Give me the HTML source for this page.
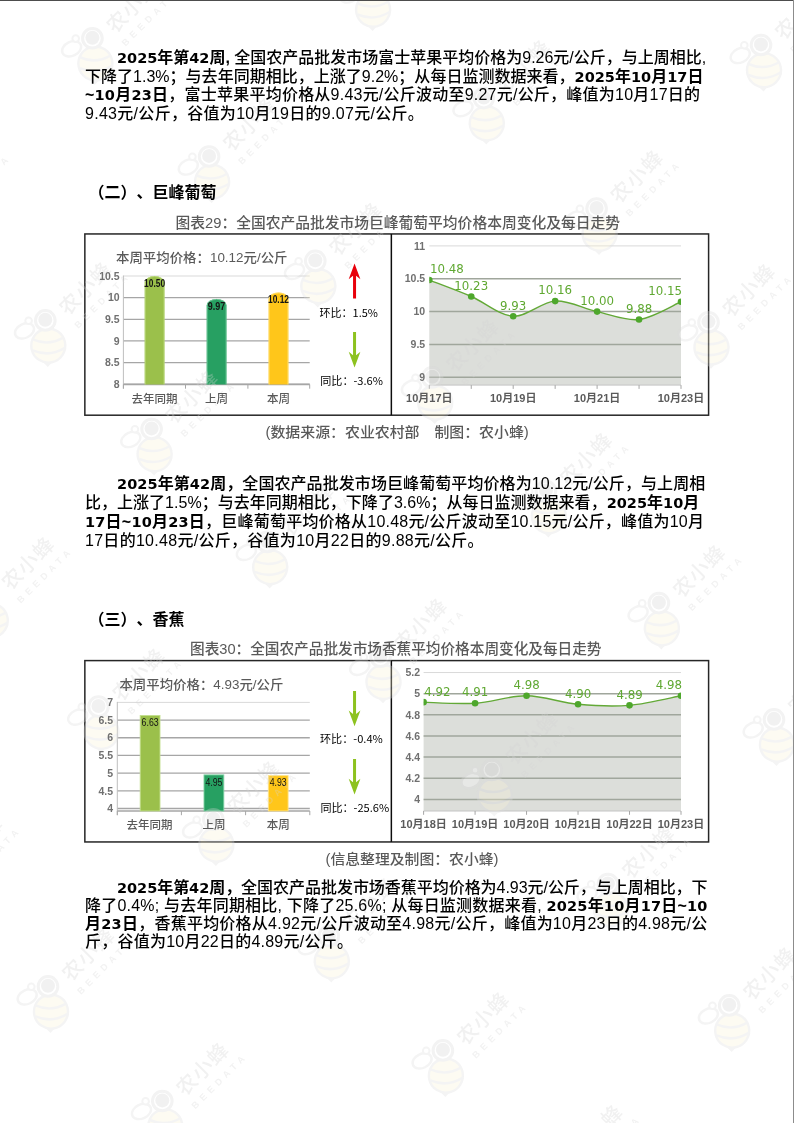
<!DOCTYPE html>
<html lang="zh-CN"><head><meta charset="utf-8"><title>农产品批发市场价格周报</title>
<style>html,body{margin:0;padding:0;background:#fff}body{width:794px;height:1123px;overflow:hidden;position:relative}svg{position:absolute;left:0;top:0;display:block}text{text-spacing-trim:space-all}.p{font-family:'Liberation Sans','Noto Sans CJK SC',sans-serif;font-size:16px;fill:#000;font-weight:500}</style></head><body>
<svg width="794" height="1123" viewBox="0 0 794 1123">
<rect x="0" y="0" width="794" height="1123" fill="#fff"/>
<rect x="84.85" y="233.95" width="623.75" height="181.25" fill="none" stroke="#262626" stroke-width="1.5"/>
<line x1="391.35" y1="233.95" x2="391.35" y2="415.20" stroke="#0d0d0d" stroke-width="1.5"/>
<line x1="123.40" y1="384.20" x2="309.70" y2="384.20" stroke="#a6a6a6" stroke-width="1.3"/>
<line x1="123.40" y1="362.56" x2="309.70" y2="362.56" stroke="#a6a6a6" stroke-width="1.3"/>
<line x1="123.40" y1="340.92" x2="309.70" y2="340.92" stroke="#a6a6a6" stroke-width="1.3"/>
<line x1="123.40" y1="319.28" x2="309.70" y2="319.28" stroke="#a6a6a6" stroke-width="1.3"/>
<line x1="123.40" y1="297.64" x2="309.70" y2="297.64" stroke="#a6a6a6" stroke-width="1.3"/>
<line x1="123.40" y1="276.00" x2="309.70" y2="276.00" stroke="#d9d9d9" stroke-width="1.0"/>
<line x1="123.40" y1="275.50" x2="123.40" y2="388.70" stroke="#bfbfbf" stroke-width="1.0"/>
<line x1="123.40" y1="384.50" x2="309.70" y2="384.50" stroke="#a6a6a6" stroke-width="1.6"/>
<line x1="123.40" y1="384.50" x2="123.40" y2="388.70" stroke="#a6a6a6" stroke-width="1.0"/>
<line x1="185.50" y1="384.50" x2="185.50" y2="388.70" stroke="#a6a6a6" stroke-width="1.0"/>
<line x1="247.90" y1="384.50" x2="247.90" y2="388.70" stroke="#a6a6a6" stroke-width="1.0"/>
<line x1="309.70" y1="384.50" x2="309.70" y2="388.70" stroke="#a6a6a6" stroke-width="1.0"/>
<path d="M144.70,384.50 L144.70,282.50 A9.90,6.50 0 0 1 164.50,282.50 L164.50,384.50 Z" fill="#9bc04b"/>
<path d="M145.15,384.50 L145.15,282.50 A9.45,6.05 0 0 1 164.05,282.50 L164.05,384.50" fill="none" stroke="#c3df8e" stroke-width="0.9" opacity="0.8"/>
<path d="M206.70,384.50 L206.70,305.44 A9.90,6.50 0 0 1 226.50,305.44 L226.50,384.50 Z" fill="#27a062"/>
<path d="M207.15,384.50 L207.15,305.44 A9.45,6.05 0 0 1 226.05,305.44 L226.05,384.50" fill="none" stroke="#7fd0a3" stroke-width="0.9" opacity="0.8"/>
<path d="M268.60,384.50 L268.60,298.95 A9.90,6.50 0 0 1 288.40,298.95 L288.40,384.50 Z" fill="#ffc61a"/>
<path d="M269.05,384.50 L269.05,298.95 A9.45,6.05 0 0 1 287.95,298.95 L287.95,384.50" fill="none" stroke="#ffe48a" stroke-width="0.9" opacity="0.8"/>
<path d="M354.55,263.50 L360.40,279.20 L356.05,275.70 L356.05,298.40 L353.05,298.40 L353.05,275.70 L348.70,279.20 L354.55,263.50 L354.55,263.50 Z" fill="#e8000b"/>
<path d="M354.55,367.50 L360.40,351.80 L356.05,355.30 L356.05,331.90 L353.05,331.90 L353.05,355.30 L348.70,351.80 L354.55,367.50 L354.55,367.50 Z" fill="#8dc21f"/>
<path d="M429.30,280.06 C436.29,282.80 457.27,290.47 471.25,296.49 C485.23,302.51 499.22,315.43 513.20,316.20 C527.18,316.97 541.17,301.85 555.15,301.09 C569.13,300.32 583.12,308.53 597.10,311.60 C611.08,314.67 625.07,321.13 639.05,319.48 C653.03,317.84 674.01,304.70 681.00,301.75 L681.00,385.10 L429.30,385.10 Z" fill="#dcdeda"/>
<line x1="429.30" y1="377.30" x2="681.00" y2="377.30" stroke="#a0a69c" stroke-width="1.5"/>
<line x1="429.30" y1="344.45" x2="681.00" y2="344.45" stroke="#a0a69c" stroke-width="1.5"/>
<line x1="429.30" y1="311.60" x2="681.00" y2="311.60" stroke="#a0a69c" stroke-width="1.5"/>
<line x1="429.30" y1="278.75" x2="681.00" y2="278.75" stroke="#a0a69c" stroke-width="1.5"/>
<line x1="429.30" y1="245.90" x2="681.00" y2="245.90" stroke="#d9d9d9" stroke-width="1.0"/>
<line x1="429.30" y1="385.10" x2="681.00" y2="385.10" stroke="#c4c4c4" stroke-width="1.0"/>
<line x1="429.30" y1="385.10" x2="429.30" y2="388.90" stroke="#a6a6a6" stroke-width="1.0"/>
<line x1="471.25" y1="385.10" x2="471.25" y2="388.90" stroke="#a6a6a6" stroke-width="1.0"/>
<line x1="513.20" y1="385.10" x2="513.20" y2="388.90" stroke="#a6a6a6" stroke-width="1.0"/>
<line x1="555.15" y1="385.10" x2="555.15" y2="388.90" stroke="#a6a6a6" stroke-width="1.0"/>
<line x1="597.10" y1="385.10" x2="597.10" y2="388.90" stroke="#a6a6a6" stroke-width="1.0"/>
<line x1="639.05" y1="385.10" x2="639.05" y2="388.90" stroke="#a6a6a6" stroke-width="1.0"/>
<line x1="681.00" y1="385.10" x2="681.00" y2="388.90" stroke="#a6a6a6" stroke-width="1.0"/>
<clipPath id="clip429"><rect x="429.30" y="233.90" width="251.70" height="151.20"/></clipPath>
<g clip-path="url(#clip429)">
<path d="M429.30,280.06 C436.29,282.80 457.27,290.47 471.25,296.49 C485.23,302.51 499.22,315.43 513.20,316.20 C527.18,316.97 541.17,301.85 555.15,301.09 C569.13,300.32 583.12,308.53 597.10,311.60 C611.08,314.67 625.07,321.13 639.05,319.48 C653.03,317.84 674.01,304.70 681.00,301.75" fill="none" stroke="#63a937" stroke-width="1.4"/>
<circle cx="429.30" cy="280.06" r="3.3" fill="#4ea72c"/>
<circle cx="471.25" cy="296.49" r="3.3" fill="#4ea72c"/>
<circle cx="513.20" cy="316.20" r="3.3" fill="#4ea72c"/>
<circle cx="555.15" cy="301.09" r="3.3" fill="#4ea72c"/>
<circle cx="597.10" cy="311.60" r="3.3" fill="#4ea72c"/>
<circle cx="639.05" cy="319.48" r="3.3" fill="#4ea72c"/>
<circle cx="681.00" cy="301.75" r="3.3" fill="#4ea72c"/>
</g>
<rect x="84.85" y="660.60" width="623.75" height="181.35" fill="none" stroke="#262626" stroke-width="1.5"/>
<line x1="391.35" y1="660.60" x2="391.35" y2="841.95" stroke="#0d0d0d" stroke-width="1.5"/>
<line x1="117.30" y1="808.50" x2="309.80" y2="808.50" stroke="#a6a6a6" stroke-width="1.3"/>
<line x1="117.30" y1="790.82" x2="309.80" y2="790.82" stroke="#a6a6a6" stroke-width="1.3"/>
<line x1="117.30" y1="773.13" x2="309.80" y2="773.13" stroke="#a6a6a6" stroke-width="1.3"/>
<line x1="117.30" y1="755.45" x2="309.80" y2="755.45" stroke="#a6a6a6" stroke-width="1.3"/>
<line x1="117.30" y1="737.76" x2="309.80" y2="737.76" stroke="#a6a6a6" stroke-width="1.3"/>
<line x1="117.30" y1="720.08" x2="309.80" y2="720.08" stroke="#a6a6a6" stroke-width="1.3"/>
<line x1="117.30" y1="702.39" x2="309.80" y2="702.39" stroke="#d9d9d9" stroke-width="1.0"/>
<line x1="117.30" y1="701.89" x2="117.30" y2="815.20" stroke="#bfbfbf" stroke-width="1.0"/>
<line x1="117.30" y1="811.00" x2="309.80" y2="811.00" stroke="#a6a6a6" stroke-width="1.6"/>
<line x1="117.30" y1="811.00" x2="117.30" y2="815.20" stroke="#a6a6a6" stroke-width="1.0"/>
<line x1="181.40" y1="811.00" x2="181.40" y2="815.20" stroke="#a6a6a6" stroke-width="1.0"/>
<line x1="245.60" y1="811.00" x2="245.60" y2="815.20" stroke="#a6a6a6" stroke-width="1.0"/>
<line x1="309.80" y1="811.00" x2="309.80" y2="815.20" stroke="#a6a6a6" stroke-width="1.0"/>
<rect x="140.20" y="715.48" width="19.80" height="95.52" fill="#9bc04b" stroke="#c3df8e" stroke-width="0.9"/>
<rect x="204.00" y="774.90" width="19.80" height="36.10" fill="#27a062" stroke="#7fd0a3" stroke-width="0.9"/>
<rect x="268.30" y="775.61" width="19.80" height="35.39" fill="#ffc61a" stroke="#ffe48a" stroke-width="0.9"/>
<path d="M354.55,726.30 L360.40,710.60 L356.05,714.10 L356.05,691.00 L353.05,691.00 L353.05,714.10 L348.70,710.60 L354.55,726.30 L354.55,726.30 Z" fill="#8dc21f"/>
<path d="M354.55,794.40 L360.40,778.70 L356.05,782.20 L356.05,759.00 L353.05,759.00 L353.05,782.20 L348.70,778.70 L354.55,794.40 L354.55,794.40 Z" fill="#8dc21f"/>
<path d="M423.60,702.16 C432.18,702.33 457.92,704.27 475.08,703.21 C492.24,702.16 509.40,695.64 526.56,695.81 C543.72,695.99 560.88,702.68 578.04,704.27 C595.20,705.86 612.36,706.74 629.52,705.33 C646.68,703.92 672.42,697.40 681.00,695.81 L681.00,811.00 L423.60,811.00 Z" fill="#dcdeda"/>
<line x1="423.60" y1="799.40" x2="681.00" y2="799.40" stroke="#a0a69c" stroke-width="1.5"/>
<line x1="423.60" y1="778.26" x2="681.00" y2="778.26" stroke="#a0a69c" stroke-width="1.5"/>
<line x1="423.60" y1="757.12" x2="681.00" y2="757.12" stroke="#a0a69c" stroke-width="1.5"/>
<line x1="423.60" y1="735.98" x2="681.00" y2="735.98" stroke="#a0a69c" stroke-width="1.5"/>
<line x1="423.60" y1="714.84" x2="681.00" y2="714.84" stroke="#a0a69c" stroke-width="1.5"/>
<line x1="423.60" y1="693.70" x2="681.00" y2="693.70" stroke="#a0a69c" stroke-width="1.5"/>
<line x1="423.60" y1="672.56" x2="681.00" y2="672.56" stroke="#d9d9d9" stroke-width="1.0"/>
<line x1="423.60" y1="811.00" x2="681.00" y2="811.00" stroke="#c4c4c4" stroke-width="1.0"/>
<line x1="423.60" y1="811.00" x2="423.60" y2="814.80" stroke="#a6a6a6" stroke-width="1.0"/>
<line x1="475.08" y1="811.00" x2="475.08" y2="814.80" stroke="#a6a6a6" stroke-width="1.0"/>
<line x1="526.56" y1="811.00" x2="526.56" y2="814.80" stroke="#a6a6a6" stroke-width="1.0"/>
<line x1="578.04" y1="811.00" x2="578.04" y2="814.80" stroke="#a6a6a6" stroke-width="1.0"/>
<line x1="629.52" y1="811.00" x2="629.52" y2="814.80" stroke="#a6a6a6" stroke-width="1.0"/>
<line x1="681.00" y1="811.00" x2="681.00" y2="814.80" stroke="#a6a6a6" stroke-width="1.0"/>
<clipPath id="clip423"><rect x="423.60" y="660.56" width="257.40" height="150.44"/></clipPath>
<g clip-path="url(#clip423)">
<path d="M423.60,702.16 C432.18,702.33 457.92,704.27 475.08,703.21 C492.24,702.16 509.40,695.64 526.56,695.81 C543.72,695.99 560.88,702.68 578.04,704.27 C595.20,705.86 612.36,706.74 629.52,705.33 C646.68,703.92 672.42,697.40 681.00,695.81" fill="none" stroke="#63a937" stroke-width="1.4"/>
<circle cx="423.60" cy="702.16" r="3.3" fill="#4ea72c"/>
<circle cx="475.08" cy="703.21" r="3.3" fill="#4ea72c"/>
<circle cx="526.56" cy="695.81" r="3.3" fill="#4ea72c"/>
<circle cx="578.04" cy="704.27" r="3.3" fill="#4ea72c"/>
<circle cx="629.52" cy="705.33" r="3.3" fill="#4ea72c"/>
<circle cx="681.00" cy="695.81" r="3.3" fill="#4ea72c"/>
</g>
<g id="wm" opacity="0.32">
<g transform="translate(-74.3,202.4)"><ellipse cx="-20.8" cy="10.5" rx="10" ry="7" transform="rotate(-25 -20.8 10.5)" fill="#ffffff" stroke="#dcdcdc" stroke-width="2.4"/><circle cx="-16.7" cy="0.3" r="3.3" fill="#ffffff" stroke="#dcdcdc" stroke-width="2"/><ellipse cx="3" cy="25.2" rx="17" ry="17" transform="rotate(-12 3 25.2)" fill="#f9f3d6" stroke="#dcdcdc" stroke-width="2.4"/><path d="M-12.5,19 Q3,26 18.5,17 M-12.5,30 Q4,37 19.5,27.5" fill="none" stroke="#dddddd" stroke-width="2.6"/><path d="M-2,42 L2.5,46.5 L7,41.5 Z" fill="#dcdcdc"/><circle cx="0" cy="0" r="9.8" fill="#ffffff" stroke="#d8d8d8" stroke-width="3"/><circle cx="0" cy="-0.6" r="7.0" fill="#d4d4d4"/><text x="0" y="0" transform="translate(22.5,-4) rotate(-45)" font-size="20.5" font-weight="500" letter-spacing="1.2" fill="#d4d4d4" font-family="'Noto Sans CJK SC','Liberation Sans',sans-serif">农小蜂</text><text x="0" y="0" transform="translate(33,8.5) rotate(-45)" font-size="9.2" font-weight="bold" letter-spacing="4.6" fill="#d6d6d6" font-family="'Liberation Sans','Noto Sans CJK SC',sans-serif">BEEDATA</text></g>
<g transform="translate(92.4,38.3)"><ellipse cx="-20.8" cy="10.5" rx="10" ry="7" transform="rotate(-25 -20.8 10.5)" fill="#ffffff" stroke="#dcdcdc" stroke-width="2.4"/><circle cx="-16.7" cy="0.3" r="3.3" fill="#ffffff" stroke="#dcdcdc" stroke-width="2"/><ellipse cx="3" cy="25.2" rx="17" ry="17" transform="rotate(-12 3 25.2)" fill="#f9f3d6" stroke="#dcdcdc" stroke-width="2.4"/><path d="M-12.5,19 Q3,26 18.5,17 M-12.5,30 Q4,37 19.5,27.5" fill="none" stroke="#dddddd" stroke-width="2.6"/><path d="M-2,42 L2.5,46.5 L7,41.5 Z" fill="#dcdcdc"/><circle cx="0" cy="0" r="9.8" fill="#ffffff" stroke="#d8d8d8" stroke-width="3"/><circle cx="0" cy="-0.6" r="7.0" fill="#d4d4d4"/><text x="0" y="0" transform="translate(22.5,-4) rotate(-45)" font-size="20.5" font-weight="500" letter-spacing="1.2" fill="#d4d4d4" font-family="'Noto Sans CJK SC','Liberation Sans',sans-serif">农小蜂</text><text x="0" y="0" transform="translate(33,8.5) rotate(-45)" font-size="9.2" font-weight="bold" letter-spacing="4.6" fill="#d6d6d6" font-family="'Liberation Sans','Noto Sans CJK SC',sans-serif">BEEDATA</text></g>
<g transform="translate(45.3,320.4)"><ellipse cx="-20.8" cy="10.5" rx="10" ry="7" transform="rotate(-25 -20.8 10.5)" fill="#ffffff" stroke="#dcdcdc" stroke-width="2.4"/><circle cx="-16.7" cy="0.3" r="3.3" fill="#ffffff" stroke="#dcdcdc" stroke-width="2"/><ellipse cx="3" cy="25.2" rx="17" ry="17" transform="rotate(-12 3 25.2)" fill="#f9f3d6" stroke="#dcdcdc" stroke-width="2.4"/><path d="M-12.5,19 Q3,26 18.5,17 M-12.5,30 Q4,37 19.5,27.5" fill="none" stroke="#dddddd" stroke-width="2.6"/><path d="M-2,42 L2.5,46.5 L7,41.5 Z" fill="#dcdcdc"/><circle cx="0" cy="0" r="9.8" fill="#ffffff" stroke="#d8d8d8" stroke-width="3"/><circle cx="0" cy="-0.6" r="7.0" fill="#d4d4d4"/><text x="0" y="0" transform="translate(22.5,-4) rotate(-45)" font-size="20.5" font-weight="500" letter-spacing="1.2" fill="#d4d4d4" font-family="'Noto Sans CJK SC','Liberation Sans',sans-serif">农小蜂</text><text x="0" y="0" transform="translate(33,8.5) rotate(-45)" font-size="9.2" font-weight="bold" letter-spacing="4.6" fill="#d6d6d6" font-family="'Liberation Sans','Noto Sans CJK SC',sans-serif">BEEDATA</text></g>
<g transform="translate(209.1,156.5)"><ellipse cx="-20.8" cy="10.5" rx="10" ry="7" transform="rotate(-25 -20.8 10.5)" fill="#ffffff" stroke="#dcdcdc" stroke-width="2.4"/><circle cx="-16.7" cy="0.3" r="3.3" fill="#ffffff" stroke="#dcdcdc" stroke-width="2"/><ellipse cx="3" cy="25.2" rx="17" ry="17" transform="rotate(-12 3 25.2)" fill="#f9f3d6" stroke="#dcdcdc" stroke-width="2.4"/><path d="M-12.5,19 Q3,26 18.5,17 M-12.5,30 Q4,37 19.5,27.5" fill="none" stroke="#dddddd" stroke-width="2.6"/><path d="M-2,42 L2.5,46.5 L7,41.5 Z" fill="#dcdcdc"/><circle cx="0" cy="0" r="9.8" fill="#ffffff" stroke="#d8d8d8" stroke-width="3"/><circle cx="0" cy="-0.6" r="7.0" fill="#d4d4d4"/><text x="0" y="0" transform="translate(22.5,-4) rotate(-45)" font-size="20.5" font-weight="500" letter-spacing="1.2" fill="#d4d4d4" font-family="'Noto Sans CJK SC','Liberation Sans',sans-serif">农小蜂</text><text x="0" y="0" transform="translate(33,8.5) rotate(-45)" font-size="9.2" font-weight="bold" letter-spacing="4.6" fill="#d6d6d6" font-family="'Liberation Sans','Noto Sans CJK SC',sans-serif">BEEDATA</text></g>
<g transform="translate(370.1,-15.5)"><ellipse cx="-20.8" cy="10.5" rx="10" ry="7" transform="rotate(-25 -20.8 10.5)" fill="#ffffff" stroke="#dcdcdc" stroke-width="2.4"/><circle cx="-16.7" cy="0.3" r="3.3" fill="#ffffff" stroke="#dcdcdc" stroke-width="2"/><ellipse cx="3" cy="25.2" rx="17" ry="17" transform="rotate(-12 3 25.2)" fill="#f9f3d6" stroke="#dcdcdc" stroke-width="2.4"/><path d="M-12.5,19 Q3,26 18.5,17 M-12.5,30 Q4,37 19.5,27.5" fill="none" stroke="#dddddd" stroke-width="2.6"/><path d="M-2,42 L2.5,46.5 L7,41.5 Z" fill="#dcdcdc"/><circle cx="0" cy="0" r="9.8" fill="#ffffff" stroke="#d8d8d8" stroke-width="3"/><circle cx="0" cy="-0.6" r="7.0" fill="#d4d4d4"/><text x="0" y="0" transform="translate(22.5,-4) rotate(-45)" font-size="20.5" font-weight="500" letter-spacing="1.2" fill="#d4d4d4" font-family="'Noto Sans CJK SC','Liberation Sans',sans-serif">农小蜂</text><text x="0" y="0" transform="translate(33,8.5) rotate(-45)" font-size="9.2" font-weight="bold" letter-spacing="4.6" fill="#d6d6d6" font-family="'Liberation Sans','Noto Sans CJK SC',sans-serif">BEEDATA</text></g>
<g transform="translate(-12.2,595.3)"><ellipse cx="-20.8" cy="10.5" rx="10" ry="7" transform="rotate(-25 -20.8 10.5)" fill="#ffffff" stroke="#dcdcdc" stroke-width="2.4"/><circle cx="-16.7" cy="0.3" r="3.3" fill="#ffffff" stroke="#dcdcdc" stroke-width="2"/><ellipse cx="3" cy="25.2" rx="17" ry="17" transform="rotate(-12 3 25.2)" fill="#f9f3d6" stroke="#dcdcdc" stroke-width="2.4"/><path d="M-12.5,19 Q3,26 18.5,17 M-12.5,30 Q4,37 19.5,27.5" fill="none" stroke="#dddddd" stroke-width="2.6"/><path d="M-2,42 L2.5,46.5 L7,41.5 Z" fill="#dcdcdc"/><circle cx="0" cy="0" r="9.8" fill="#ffffff" stroke="#d8d8d8" stroke-width="3"/><circle cx="0" cy="-0.6" r="7.0" fill="#d4d4d4"/><text x="0" y="0" transform="translate(22.5,-4) rotate(-45)" font-size="20.5" font-weight="500" letter-spacing="1.2" fill="#d4d4d4" font-family="'Noto Sans CJK SC','Liberation Sans',sans-serif">农小蜂</text><text x="0" y="0" transform="translate(33,8.5) rotate(-45)" font-size="9.2" font-weight="bold" letter-spacing="4.6" fill="#d6d6d6" font-family="'Liberation Sans','Noto Sans CJK SC',sans-serif">BEEDATA</text></g>
<g transform="translate(151.6,429.0)"><ellipse cx="-20.8" cy="10.5" rx="10" ry="7" transform="rotate(-25 -20.8 10.5)" fill="#ffffff" stroke="#dcdcdc" stroke-width="2.4"/><circle cx="-16.7" cy="0.3" r="3.3" fill="#ffffff" stroke="#dcdcdc" stroke-width="2"/><ellipse cx="3" cy="25.2" rx="17" ry="17" transform="rotate(-12 3 25.2)" fill="#f9f3d6" stroke="#dcdcdc" stroke-width="2.4"/><path d="M-12.5,19 Q3,26 18.5,17 M-12.5,30 Q4,37 19.5,27.5" fill="none" stroke="#dddddd" stroke-width="2.6"/><path d="M-2,42 L2.5,46.5 L7,41.5 Z" fill="#dcdcdc"/><circle cx="0" cy="0" r="9.8" fill="#ffffff" stroke="#d8d8d8" stroke-width="3"/><circle cx="0" cy="-0.6" r="7.0" fill="#d4d4d4"/><text x="0" y="0" transform="translate(22.5,-4) rotate(-45)" font-size="20.5" font-weight="500" letter-spacing="1.2" fill="#d4d4d4" font-family="'Noto Sans CJK SC','Liberation Sans',sans-serif">农小蜂</text><text x="0" y="0" transform="translate(33,8.5) rotate(-45)" font-size="9.2" font-weight="bold" letter-spacing="4.6" fill="#d6d6d6" font-family="'Liberation Sans','Noto Sans CJK SC',sans-serif">BEEDATA</text></g>
<g transform="translate(315.3,260.9)"><ellipse cx="-20.8" cy="10.5" rx="10" ry="7" transform="rotate(-25 -20.8 10.5)" fill="#ffffff" stroke="#dcdcdc" stroke-width="2.4"/><circle cx="-16.7" cy="0.3" r="3.3" fill="#ffffff" stroke="#dcdcdc" stroke-width="2"/><ellipse cx="3" cy="25.2" rx="17" ry="17" transform="rotate(-12 3 25.2)" fill="#f9f3d6" stroke="#dcdcdc" stroke-width="2.4"/><path d="M-12.5,19 Q3,26 18.5,17 M-12.5,30 Q4,37 19.5,27.5" fill="none" stroke="#dddddd" stroke-width="2.6"/><path d="M-2,42 L2.5,46.5 L7,41.5 Z" fill="#dcdcdc"/><circle cx="0" cy="0" r="9.8" fill="#ffffff" stroke="#d8d8d8" stroke-width="3"/><circle cx="0" cy="-0.6" r="7.0" fill="#d4d4d4"/><text x="0" y="0" transform="translate(22.5,-4) rotate(-45)" font-size="20.5" font-weight="500" letter-spacing="1.2" fill="#d4d4d4" font-family="'Noto Sans CJK SC','Liberation Sans',sans-serif">农小蜂</text><text x="0" y="0" transform="translate(33,8.5) rotate(-45)" font-size="9.2" font-weight="bold" letter-spacing="4.6" fill="#d6d6d6" font-family="'Liberation Sans','Noto Sans CJK SC',sans-serif">BEEDATA</text></g>
<g transform="translate(483.8,98.1)"><ellipse cx="-20.8" cy="10.5" rx="10" ry="7" transform="rotate(-25 -20.8 10.5)" fill="#ffffff" stroke="#dcdcdc" stroke-width="2.4"/><circle cx="-16.7" cy="0.3" r="3.3" fill="#ffffff" stroke="#dcdcdc" stroke-width="2"/><ellipse cx="3" cy="25.2" rx="17" ry="17" transform="rotate(-12 3 25.2)" fill="#f9f3d6" stroke="#dcdcdc" stroke-width="2.4"/><path d="M-12.5,19 Q3,26 18.5,17 M-12.5,30 Q4,37 19.5,27.5" fill="none" stroke="#dddddd" stroke-width="2.6"/><path d="M-2,42 L2.5,46.5 L7,41.5 Z" fill="#dcdcdc"/><circle cx="0" cy="0" r="9.8" fill="#ffffff" stroke="#d8d8d8" stroke-width="3"/><circle cx="0" cy="-0.6" r="7.0" fill="#d4d4d4"/><text x="0" y="0" transform="translate(22.5,-4) rotate(-45)" font-size="20.5" font-weight="500" letter-spacing="1.2" fill="#d4d4d4" font-family="'Noto Sans CJK SC','Liberation Sans',sans-serif">农小蜂</text><text x="0" y="0" transform="translate(33,8.5) rotate(-45)" font-size="9.2" font-weight="bold" letter-spacing="4.6" fill="#d6d6d6" font-family="'Liberation Sans','Noto Sans CJK SC',sans-serif">BEEDATA</text></g>
<g transform="translate(-63.9,874.7)"><ellipse cx="-20.8" cy="10.5" rx="10" ry="7" transform="rotate(-25 -20.8 10.5)" fill="#ffffff" stroke="#dcdcdc" stroke-width="2.4"/><circle cx="-16.7" cy="0.3" r="3.3" fill="#ffffff" stroke="#dcdcdc" stroke-width="2"/><ellipse cx="3" cy="25.2" rx="17" ry="17" transform="rotate(-12 3 25.2)" fill="#f9f3d6" stroke="#dcdcdc" stroke-width="2.4"/><path d="M-12.5,19 Q3,26 18.5,17 M-12.5,30 Q4,37 19.5,27.5" fill="none" stroke="#dddddd" stroke-width="2.6"/><path d="M-2,42 L2.5,46.5 L7,41.5 Z" fill="#dcdcdc"/><circle cx="0" cy="0" r="9.8" fill="#ffffff" stroke="#d8d8d8" stroke-width="3"/><circle cx="0" cy="-0.6" r="7.0" fill="#d4d4d4"/><text x="0" y="0" transform="translate(22.5,-4) rotate(-45)" font-size="20.5" font-weight="500" letter-spacing="1.2" fill="#d4d4d4" font-family="'Noto Sans CJK SC','Liberation Sans',sans-serif">农小蜂</text><text x="0" y="0" transform="translate(33,8.5) rotate(-45)" font-size="9.2" font-weight="bold" letter-spacing="4.6" fill="#d6d6d6" font-family="'Liberation Sans','Noto Sans CJK SC',sans-serif">BEEDATA</text></g>
<g transform="translate(98.5,706.6)"><ellipse cx="-20.8" cy="10.5" rx="10" ry="7" transform="rotate(-25 -20.8 10.5)" fill="#ffffff" stroke="#dcdcdc" stroke-width="2.4"/><circle cx="-16.7" cy="0.3" r="3.3" fill="#ffffff" stroke="#dcdcdc" stroke-width="2"/><ellipse cx="3" cy="25.2" rx="17" ry="17" transform="rotate(-12 3 25.2)" fill="#f9f3d6" stroke="#dcdcdc" stroke-width="2.4"/><path d="M-12.5,19 Q3,26 18.5,17 M-12.5,30 Q4,37 19.5,27.5" fill="none" stroke="#dddddd" stroke-width="2.6"/><path d="M-2,42 L2.5,46.5 L7,41.5 Z" fill="#dcdcdc"/><circle cx="0" cy="0" r="9.8" fill="#ffffff" stroke="#d8d8d8" stroke-width="3"/><circle cx="0" cy="-0.6" r="7.0" fill="#d4d4d4"/><text x="0" y="0" transform="translate(22.5,-4) rotate(-45)" font-size="20.5" font-weight="500" letter-spacing="1.2" fill="#d4d4d4" font-family="'Noto Sans CJK SC','Liberation Sans',sans-serif">农小蜂</text><text x="0" y="0" transform="translate(33,8.5) rotate(-45)" font-size="9.2" font-weight="bold" letter-spacing="4.6" fill="#d6d6d6" font-family="'Liberation Sans','Noto Sans CJK SC',sans-serif">BEEDATA</text></g>
<g transform="translate(267.2,541.9)"><ellipse cx="-20.8" cy="10.5" rx="10" ry="7" transform="rotate(-25 -20.8 10.5)" fill="#ffffff" stroke="#dcdcdc" stroke-width="2.4"/><circle cx="-16.7" cy="0.3" r="3.3" fill="#ffffff" stroke="#dcdcdc" stroke-width="2"/><ellipse cx="3" cy="25.2" rx="17" ry="17" transform="rotate(-12 3 25.2)" fill="#f9f3d6" stroke="#dcdcdc" stroke-width="2.4"/><path d="M-12.5,19 Q3,26 18.5,17 M-12.5,30 Q4,37 19.5,27.5" fill="none" stroke="#dddddd" stroke-width="2.6"/><path d="M-2,42 L2.5,46.5 L7,41.5 Z" fill="#dcdcdc"/><circle cx="0" cy="0" r="9.8" fill="#ffffff" stroke="#d8d8d8" stroke-width="3"/><circle cx="0" cy="-0.6" r="7.0" fill="#d4d4d4"/><text x="0" y="0" transform="translate(22.5,-4) rotate(-45)" font-size="20.5" font-weight="500" letter-spacing="1.2" fill="#d4d4d4" font-family="'Noto Sans CJK SC','Liberation Sans',sans-serif">农小蜂</text><text x="0" y="0" transform="translate(33,8.5) rotate(-45)" font-size="9.2" font-weight="bold" letter-spacing="4.6" fill="#d6d6d6" font-family="'Liberation Sans','Noto Sans CJK SC',sans-serif">BEEDATA</text></g>
<g transform="translate(432.2,377.4)"><ellipse cx="-20.8" cy="10.5" rx="10" ry="7" transform="rotate(-25 -20.8 10.5)" fill="#ffffff" stroke="#dcdcdc" stroke-width="2.4"/><circle cx="-16.7" cy="0.3" r="3.3" fill="#ffffff" stroke="#dcdcdc" stroke-width="2"/><ellipse cx="3" cy="25.2" rx="17" ry="17" transform="rotate(-12 3 25.2)" fill="#f9f3d6" stroke="#dcdcdc" stroke-width="2.4"/><path d="M-12.5,19 Q3,26 18.5,17 M-12.5,30 Q4,37 19.5,27.5" fill="none" stroke="#dddddd" stroke-width="2.6"/><path d="M-2,42 L2.5,46.5 L7,41.5 Z" fill="#dcdcdc"/><circle cx="0" cy="0" r="9.8" fill="#ffffff" stroke="#d8d8d8" stroke-width="3"/><circle cx="0" cy="-0.6" r="7.0" fill="#d4d4d4"/><text x="0" y="0" transform="translate(22.5,-4) rotate(-45)" font-size="20.5" font-weight="500" letter-spacing="1.2" fill="#d4d4d4" font-family="'Noto Sans CJK SC','Liberation Sans',sans-serif">农小蜂</text><text x="0" y="0" transform="translate(33,8.5) rotate(-45)" font-size="9.2" font-weight="bold" letter-spacing="4.6" fill="#d6d6d6" font-family="'Liberation Sans','Noto Sans CJK SC',sans-serif">BEEDATA</text></g>
<g transform="translate(596.6,208.5)"><ellipse cx="-20.8" cy="10.5" rx="10" ry="7" transform="rotate(-25 -20.8 10.5)" fill="#ffffff" stroke="#dcdcdc" stroke-width="2.4"/><circle cx="-16.7" cy="0.3" r="3.3" fill="#ffffff" stroke="#dcdcdc" stroke-width="2"/><ellipse cx="3" cy="25.2" rx="17" ry="17" transform="rotate(-12 3 25.2)" fill="#f9f3d6" stroke="#dcdcdc" stroke-width="2.4"/><path d="M-12.5,19 Q3,26 18.5,17 M-12.5,30 Q4,37 19.5,27.5" fill="none" stroke="#dddddd" stroke-width="2.6"/><path d="M-2,42 L2.5,46.5 L7,41.5 Z" fill="#dcdcdc"/><circle cx="0" cy="0" r="9.8" fill="#ffffff" stroke="#d8d8d8" stroke-width="3"/><circle cx="0" cy="-0.6" r="7.0" fill="#d4d4d4"/><text x="0" y="0" transform="translate(22.5,-4) rotate(-45)" font-size="20.5" font-weight="500" letter-spacing="1.2" fill="#d4d4d4" font-family="'Noto Sans CJK SC','Liberation Sans',sans-serif">农小蜂</text><text x="0" y="0" transform="translate(33,8.5) rotate(-45)" font-size="9.2" font-weight="bold" letter-spacing="4.6" fill="#d6d6d6" font-family="'Liberation Sans','Noto Sans CJK SC',sans-serif">BEEDATA</text></g>
<g transform="translate(761.0,45.0)"><ellipse cx="-20.8" cy="10.5" rx="10" ry="7" transform="rotate(-25 -20.8 10.5)" fill="#ffffff" stroke="#dcdcdc" stroke-width="2.4"/><circle cx="-16.7" cy="0.3" r="3.3" fill="#ffffff" stroke="#dcdcdc" stroke-width="2"/><ellipse cx="3" cy="25.2" rx="17" ry="17" transform="rotate(-12 3 25.2)" fill="#f9f3d6" stroke="#dcdcdc" stroke-width="2.4"/><path d="M-12.5,19 Q3,26 18.5,17 M-12.5,30 Q4,37 19.5,27.5" fill="none" stroke="#dddddd" stroke-width="2.6"/><path d="M-2,42 L2.5,46.5 L7,41.5 Z" fill="#dcdcdc"/><circle cx="0" cy="0" r="9.8" fill="#ffffff" stroke="#d8d8d8" stroke-width="3"/><circle cx="0" cy="-0.6" r="7.0" fill="#d4d4d4"/><text x="0" y="0" transform="translate(22.5,-4) rotate(-45)" font-size="20.5" font-weight="500" letter-spacing="1.2" fill="#d4d4d4" font-family="'Noto Sans CJK SC','Liberation Sans',sans-serif">农小蜂</text><text x="0" y="0" transform="translate(33,8.5) rotate(-45)" font-size="9.2" font-weight="bold" letter-spacing="4.6" fill="#d6d6d6" font-family="'Liberation Sans','Noto Sans CJK SC',sans-serif">BEEDATA</text></g>
<g transform="translate(48.0,986.4)"><ellipse cx="-20.8" cy="10.5" rx="10" ry="7" transform="rotate(-25 -20.8 10.5)" fill="#ffffff" stroke="#dcdcdc" stroke-width="2.4"/><circle cx="-16.7" cy="0.3" r="3.3" fill="#ffffff" stroke="#dcdcdc" stroke-width="2"/><ellipse cx="3" cy="25.2" rx="17" ry="17" transform="rotate(-12 3 25.2)" fill="#f9f3d6" stroke="#dcdcdc" stroke-width="2.4"/><path d="M-12.5,19 Q3,26 18.5,17 M-12.5,30 Q4,37 19.5,27.5" fill="none" stroke="#dddddd" stroke-width="2.6"/><path d="M-2,42 L2.5,46.5 L7,41.5 Z" fill="#dcdcdc"/><circle cx="0" cy="0" r="9.8" fill="#ffffff" stroke="#d8d8d8" stroke-width="3"/><circle cx="0" cy="-0.6" r="7.0" fill="#d4d4d4"/><text x="0" y="0" transform="translate(22.5,-4) rotate(-45)" font-size="20.5" font-weight="500" letter-spacing="1.2" fill="#d4d4d4" font-family="'Noto Sans CJK SC','Liberation Sans',sans-serif">农小蜂</text><text x="0" y="0" transform="translate(33,8.5) rotate(-45)" font-size="9.2" font-weight="bold" letter-spacing="4.6" fill="#d6d6d6" font-family="'Liberation Sans','Noto Sans CJK SC',sans-serif">BEEDATA</text></g>
<g transform="translate(213.4,819.4)"><ellipse cx="-20.8" cy="10.5" rx="10" ry="7" transform="rotate(-25 -20.8 10.5)" fill="#ffffff" stroke="#dcdcdc" stroke-width="2.4"/><circle cx="-16.7" cy="0.3" r="3.3" fill="#ffffff" stroke="#dcdcdc" stroke-width="2"/><ellipse cx="3" cy="25.2" rx="17" ry="17" transform="rotate(-12 3 25.2)" fill="#f9f3d6" stroke="#dcdcdc" stroke-width="2.4"/><path d="M-12.5,19 Q3,26 18.5,17 M-12.5,30 Q4,37 19.5,27.5" fill="none" stroke="#dddddd" stroke-width="2.6"/><path d="M-2,42 L2.5,46.5 L7,41.5 Z" fill="#dcdcdc"/><circle cx="0" cy="0" r="9.8" fill="#ffffff" stroke="#d8d8d8" stroke-width="3"/><circle cx="0" cy="-0.6" r="7.0" fill="#d4d4d4"/><text x="0" y="0" transform="translate(22.5,-4) rotate(-45)" font-size="20.5" font-weight="500" letter-spacing="1.2" fill="#d4d4d4" font-family="'Noto Sans CJK SC','Liberation Sans',sans-serif">农小蜂</text><text x="0" y="0" transform="translate(33,8.5) rotate(-45)" font-size="9.2" font-weight="bold" letter-spacing="4.6" fill="#d6d6d6" font-family="'Liberation Sans','Noto Sans CJK SC',sans-serif">BEEDATA</text></g>
<g transform="translate(380.5,656.8)"><ellipse cx="-20.8" cy="10.5" rx="10" ry="7" transform="rotate(-25 -20.8 10.5)" fill="#ffffff" stroke="#dcdcdc" stroke-width="2.4"/><circle cx="-16.7" cy="0.3" r="3.3" fill="#ffffff" stroke="#dcdcdc" stroke-width="2"/><ellipse cx="3" cy="25.2" rx="17" ry="17" transform="rotate(-12 3 25.2)" fill="#f9f3d6" stroke="#dcdcdc" stroke-width="2.4"/><path d="M-12.5,19 Q3,26 18.5,17 M-12.5,30 Q4,37 19.5,27.5" fill="none" stroke="#dddddd" stroke-width="2.6"/><path d="M-2,42 L2.5,46.5 L7,41.5 Z" fill="#dcdcdc"/><circle cx="0" cy="0" r="9.8" fill="#ffffff" stroke="#d8d8d8" stroke-width="3"/><circle cx="0" cy="-0.6" r="7.0" fill="#d4d4d4"/><text x="0" y="0" transform="translate(22.5,-4) rotate(-45)" font-size="20.5" font-weight="500" letter-spacing="1.2" fill="#d4d4d4" font-family="'Noto Sans CJK SC','Liberation Sans',sans-serif">农小蜂</text><text x="0" y="0" transform="translate(33,8.5) rotate(-45)" font-size="9.2" font-weight="bold" letter-spacing="4.6" fill="#d6d6d6" font-family="'Liberation Sans','Noto Sans CJK SC',sans-serif">BEEDATA</text></g>
<g transform="translate(545.9,491.0)"><ellipse cx="-20.8" cy="10.5" rx="10" ry="7" transform="rotate(-25 -20.8 10.5)" fill="#ffffff" stroke="#dcdcdc" stroke-width="2.4"/><circle cx="-16.7" cy="0.3" r="3.3" fill="#ffffff" stroke="#dcdcdc" stroke-width="2"/><ellipse cx="3" cy="25.2" rx="17" ry="17" transform="rotate(-12 3 25.2)" fill="#f9f3d6" stroke="#dcdcdc" stroke-width="2.4"/><path d="M-12.5,19 Q3,26 18.5,17 M-12.5,30 Q4,37 19.5,27.5" fill="none" stroke="#dddddd" stroke-width="2.6"/><path d="M-2,42 L2.5,46.5 L7,41.5 Z" fill="#dcdcdc"/><circle cx="0" cy="0" r="9.8" fill="#ffffff" stroke="#d8d8d8" stroke-width="3"/><circle cx="0" cy="-0.6" r="7.0" fill="#d4d4d4"/><text x="0" y="0" transform="translate(22.5,-4) rotate(-45)" font-size="20.5" font-weight="500" letter-spacing="1.2" fill="#d4d4d4" font-family="'Noto Sans CJK SC','Liberation Sans',sans-serif">农小蜂</text><text x="0" y="0" transform="translate(33,8.5) rotate(-45)" font-size="9.2" font-weight="bold" letter-spacing="4.6" fill="#d6d6d6" font-family="'Liberation Sans','Noto Sans CJK SC',sans-serif">BEEDATA</text></g>
<g transform="translate(708.5,322.2)"><ellipse cx="-20.8" cy="10.5" rx="10" ry="7" transform="rotate(-25 -20.8 10.5)" fill="#ffffff" stroke="#dcdcdc" stroke-width="2.4"/><circle cx="-16.7" cy="0.3" r="3.3" fill="#ffffff" stroke="#dcdcdc" stroke-width="2"/><ellipse cx="3" cy="25.2" rx="17" ry="17" transform="rotate(-12 3 25.2)" fill="#f9f3d6" stroke="#dcdcdc" stroke-width="2.4"/><path d="M-12.5,19 Q3,26 18.5,17 M-12.5,30 Q4,37 19.5,27.5" fill="none" stroke="#dddddd" stroke-width="2.6"/><path d="M-2,42 L2.5,46.5 L7,41.5 Z" fill="#dcdcdc"/><circle cx="0" cy="0" r="9.8" fill="#ffffff" stroke="#d8d8d8" stroke-width="3"/><circle cx="0" cy="-0.6" r="7.0" fill="#d4d4d4"/><text x="0" y="0" transform="translate(22.5,-4) rotate(-45)" font-size="20.5" font-weight="500" letter-spacing="1.2" fill="#d4d4d4" font-family="'Noto Sans CJK SC','Liberation Sans',sans-serif">农小蜂</text><text x="0" y="0" transform="translate(33,8.5) rotate(-45)" font-size="9.2" font-weight="bold" letter-spacing="4.6" fill="#d6d6d6" font-family="'Liberation Sans','Noto Sans CJK SC',sans-serif">BEEDATA</text></g>
<g transform="translate(162.3,1101.0)"><ellipse cx="-20.8" cy="10.5" rx="10" ry="7" transform="rotate(-25 -20.8 10.5)" fill="#ffffff" stroke="#dcdcdc" stroke-width="2.4"/><circle cx="-16.7" cy="0.3" r="3.3" fill="#ffffff" stroke="#dcdcdc" stroke-width="2"/><ellipse cx="3" cy="25.2" rx="17" ry="17" transform="rotate(-12 3 25.2)" fill="#f9f3d6" stroke="#dcdcdc" stroke-width="2.4"/><path d="M-12.5,19 Q3,26 18.5,17 M-12.5,30 Q4,37 19.5,27.5" fill="none" stroke="#dddddd" stroke-width="2.6"/><path d="M-2,42 L2.5,46.5 L7,41.5 Z" fill="#dcdcdc"/><circle cx="0" cy="0" r="9.8" fill="#ffffff" stroke="#d8d8d8" stroke-width="3"/><circle cx="0" cy="-0.6" r="7.0" fill="#d4d4d4"/><text x="0" y="0" transform="translate(22.5,-4) rotate(-45)" font-size="20.5" font-weight="500" letter-spacing="1.2" fill="#d4d4d4" font-family="'Noto Sans CJK SC','Liberation Sans',sans-serif">农小蜂</text><text x="0" y="0" transform="translate(33,8.5) rotate(-45)" font-size="9.2" font-weight="bold" letter-spacing="4.6" fill="#d6d6d6" font-family="'Liberation Sans','Noto Sans CJK SC',sans-serif">BEEDATA</text></g>
<g transform="translate(328.8,936.1)"><ellipse cx="-20.8" cy="10.5" rx="10" ry="7" transform="rotate(-25 -20.8 10.5)" fill="#ffffff" stroke="#dcdcdc" stroke-width="2.4"/><circle cx="-16.7" cy="0.3" r="3.3" fill="#ffffff" stroke="#dcdcdc" stroke-width="2"/><ellipse cx="3" cy="25.2" rx="17" ry="17" transform="rotate(-12 3 25.2)" fill="#f9f3d6" stroke="#dcdcdc" stroke-width="2.4"/><path d="M-12.5,19 Q3,26 18.5,17 M-12.5,30 Q4,37 19.5,27.5" fill="none" stroke="#dddddd" stroke-width="2.6"/><path d="M-2,42 L2.5,46.5 L7,41.5 Z" fill="#dcdcdc"/><circle cx="0" cy="0" r="9.8" fill="#ffffff" stroke="#d8d8d8" stroke-width="3"/><circle cx="0" cy="-0.6" r="7.0" fill="#d4d4d4"/><text x="0" y="0" transform="translate(22.5,-4) rotate(-45)" font-size="20.5" font-weight="500" letter-spacing="1.2" fill="#d4d4d4" font-family="'Noto Sans CJK SC','Liberation Sans',sans-serif">农小蜂</text><text x="0" y="0" transform="translate(33,8.5) rotate(-45)" font-size="9.2" font-weight="bold" letter-spacing="4.6" fill="#d6d6d6" font-family="'Liberation Sans','Noto Sans CJK SC',sans-serif">BEEDATA</text></g>
<g transform="translate(491.8,770.0)"><ellipse cx="-20.8" cy="10.5" rx="10" ry="7" transform="rotate(-25 -20.8 10.5)" fill="#ffffff" stroke="#dcdcdc" stroke-width="2.4"/><circle cx="-16.7" cy="0.3" r="3.3" fill="#ffffff" stroke="#dcdcdc" stroke-width="2"/><ellipse cx="3" cy="25.2" rx="17" ry="17" transform="rotate(-12 3 25.2)" fill="#f9f3d6" stroke="#dcdcdc" stroke-width="2.4"/><path d="M-12.5,19 Q3,26 18.5,17 M-12.5,30 Q4,37 19.5,27.5" fill="none" stroke="#dddddd" stroke-width="2.6"/><path d="M-2,42 L2.5,46.5 L7,41.5 Z" fill="#dcdcdc"/><circle cx="0" cy="0" r="9.8" fill="#ffffff" stroke="#d8d8d8" stroke-width="3"/><circle cx="0" cy="-0.6" r="7.0" fill="#d4d4d4"/><text x="0" y="0" transform="translate(22.5,-4) rotate(-45)" font-size="20.5" font-weight="500" letter-spacing="1.2" fill="#d4d4d4" font-family="'Noto Sans CJK SC','Liberation Sans',sans-serif">农小蜂</text><text x="0" y="0" transform="translate(33,8.5) rotate(-45)" font-size="9.2" font-weight="bold" letter-spacing="4.6" fill="#d6d6d6" font-family="'Liberation Sans','Noto Sans CJK SC',sans-serif">BEEDATA</text></g>
<g transform="translate(658.9,603.1)"><ellipse cx="-20.8" cy="10.5" rx="10" ry="7" transform="rotate(-25 -20.8 10.5)" fill="#ffffff" stroke="#dcdcdc" stroke-width="2.4"/><circle cx="-16.7" cy="0.3" r="3.3" fill="#ffffff" stroke="#dcdcdc" stroke-width="2"/><ellipse cx="3" cy="25.2" rx="17" ry="17" transform="rotate(-12 3 25.2)" fill="#f9f3d6" stroke="#dcdcdc" stroke-width="2.4"/><path d="M-12.5,19 Q3,26 18.5,17 M-12.5,30 Q4,37 19.5,27.5" fill="none" stroke="#dddddd" stroke-width="2.6"/><path d="M-2,42 L2.5,46.5 L7,41.5 Z" fill="#dcdcdc"/><circle cx="0" cy="0" r="9.8" fill="#ffffff" stroke="#d8d8d8" stroke-width="3"/><circle cx="0" cy="-0.6" r="7.0" fill="#d4d4d4"/><text x="0" y="0" transform="translate(22.5,-4) rotate(-45)" font-size="20.5" font-weight="500" letter-spacing="1.2" fill="#d4d4d4" font-family="'Noto Sans CJK SC','Liberation Sans',sans-serif">农小蜂</text><text x="0" y="0" transform="translate(33,8.5) rotate(-45)" font-size="9.2" font-weight="bold" letter-spacing="4.6" fill="#d6d6d6" font-family="'Liberation Sans','Noto Sans CJK SC',sans-serif">BEEDATA</text></g>
<g transform="translate(442.9,1050.4)"><ellipse cx="-20.8" cy="10.5" rx="10" ry="7" transform="rotate(-25 -20.8 10.5)" fill="#ffffff" stroke="#dcdcdc" stroke-width="2.4"/><circle cx="-16.7" cy="0.3" r="3.3" fill="#ffffff" stroke="#dcdcdc" stroke-width="2"/><ellipse cx="3" cy="25.2" rx="17" ry="17" transform="rotate(-12 3 25.2)" fill="#f9f3d6" stroke="#dcdcdc" stroke-width="2.4"/><path d="M-12.5,19 Q3,26 18.5,17 M-12.5,30 Q4,37 19.5,27.5" fill="none" stroke="#dddddd" stroke-width="2.6"/><path d="M-2,42 L2.5,46.5 L7,41.5 Z" fill="#dcdcdc"/><circle cx="0" cy="0" r="9.8" fill="#ffffff" stroke="#d8d8d8" stroke-width="3"/><circle cx="0" cy="-0.6" r="7.0" fill="#d4d4d4"/><text x="0" y="0" transform="translate(22.5,-4) rotate(-45)" font-size="20.5" font-weight="500" letter-spacing="1.2" fill="#d4d4d4" font-family="'Noto Sans CJK SC','Liberation Sans',sans-serif">农小蜂</text><text x="0" y="0" transform="translate(33,8.5) rotate(-45)" font-size="9.2" font-weight="bold" letter-spacing="4.6" fill="#d6d6d6" font-family="'Liberation Sans','Noto Sans CJK SC',sans-serif">BEEDATA</text></g>
<g transform="translate(607.9,884.0)"><ellipse cx="-20.8" cy="10.5" rx="10" ry="7" transform="rotate(-25 -20.8 10.5)" fill="#ffffff" stroke="#dcdcdc" stroke-width="2.4"/><circle cx="-16.7" cy="0.3" r="3.3" fill="#ffffff" stroke="#dcdcdc" stroke-width="2"/><ellipse cx="3" cy="25.2" rx="17" ry="17" transform="rotate(-12 3 25.2)" fill="#f9f3d6" stroke="#dcdcdc" stroke-width="2.4"/><path d="M-12.5,19 Q3,26 18.5,17 M-12.5,30 Q4,37 19.5,27.5" fill="none" stroke="#dddddd" stroke-width="2.6"/><path d="M-2,42 L2.5,46.5 L7,41.5 Z" fill="#dcdcdc"/><circle cx="0" cy="0" r="9.8" fill="#ffffff" stroke="#d8d8d8" stroke-width="3"/><circle cx="0" cy="-0.6" r="7.0" fill="#d4d4d4"/><text x="0" y="0" transform="translate(22.5,-4) rotate(-45)" font-size="20.5" font-weight="500" letter-spacing="1.2" fill="#d4d4d4" font-family="'Noto Sans CJK SC','Liberation Sans',sans-serif">农小蜂</text><text x="0" y="0" transform="translate(33,8.5) rotate(-45)" font-size="9.2" font-weight="bold" letter-spacing="4.6" fill="#d6d6d6" font-family="'Liberation Sans','Noto Sans CJK SC',sans-serif">BEEDATA</text></g>
<g transform="translate(774.0,719.4)"><ellipse cx="-20.8" cy="10.5" rx="10" ry="7" transform="rotate(-25 -20.8 10.5)" fill="#ffffff" stroke="#dcdcdc" stroke-width="2.4"/><circle cx="-16.7" cy="0.3" r="3.3" fill="#ffffff" stroke="#dcdcdc" stroke-width="2"/><ellipse cx="3" cy="25.2" rx="17" ry="17" transform="rotate(-12 3 25.2)" fill="#f9f3d6" stroke="#dcdcdc" stroke-width="2.4"/><path d="M-12.5,19 Q3,26 18.5,17 M-12.5,30 Q4,37 19.5,27.5" fill="none" stroke="#dddddd" stroke-width="2.6"/><path d="M-2,42 L2.5,46.5 L7,41.5 Z" fill="#dcdcdc"/><circle cx="0" cy="0" r="9.8" fill="#ffffff" stroke="#d8d8d8" stroke-width="3"/><circle cx="0" cy="-0.6" r="7.0" fill="#d4d4d4"/><text x="0" y="0" transform="translate(22.5,-4) rotate(-45)" font-size="20.5" font-weight="500" letter-spacing="1.2" fill="#d4d4d4" font-family="'Noto Sans CJK SC','Liberation Sans',sans-serif">农小蜂</text><text x="0" y="0" transform="translate(33,8.5) rotate(-45)" font-size="9.2" font-weight="bold" letter-spacing="4.6" fill="#d6d6d6" font-family="'Liberation Sans','Noto Sans CJK SC',sans-serif">BEEDATA</text></g>
<g transform="translate(556.2,1163.3)"><ellipse cx="-20.8" cy="10.5" rx="10" ry="7" transform="rotate(-25 -20.8 10.5)" fill="#ffffff" stroke="#dcdcdc" stroke-width="2.4"/><circle cx="-16.7" cy="0.3" r="3.3" fill="#ffffff" stroke="#dcdcdc" stroke-width="2"/><ellipse cx="3" cy="25.2" rx="17" ry="17" transform="rotate(-12 3 25.2)" fill="#f9f3d6" stroke="#dcdcdc" stroke-width="2.4"/><path d="M-12.5,19 Q3,26 18.5,17 M-12.5,30 Q4,37 19.5,27.5" fill="none" stroke="#dddddd" stroke-width="2.6"/><path d="M-2,42 L2.5,46.5 L7,41.5 Z" fill="#dcdcdc"/><circle cx="0" cy="0" r="9.8" fill="#ffffff" stroke="#d8d8d8" stroke-width="3"/><circle cx="0" cy="-0.6" r="7.0" fill="#d4d4d4"/><text x="0" y="0" transform="translate(22.5,-4) rotate(-45)" font-size="20.5" font-weight="500" letter-spacing="1.2" fill="#d4d4d4" font-family="'Noto Sans CJK SC','Liberation Sans',sans-serif">农小蜂</text><text x="0" y="0" transform="translate(33,8.5) rotate(-45)" font-size="9.2" font-weight="bold" letter-spacing="4.6" fill="#d6d6d6" font-family="'Liberation Sans','Noto Sans CJK SC',sans-serif">BEEDATA</text></g>
<g transform="translate(729.2,1005.4)"><ellipse cx="-20.8" cy="10.5" rx="10" ry="7" transform="rotate(-25 -20.8 10.5)" fill="#ffffff" stroke="#dcdcdc" stroke-width="2.4"/><circle cx="-16.7" cy="0.3" r="3.3" fill="#ffffff" stroke="#dcdcdc" stroke-width="2"/><ellipse cx="3" cy="25.2" rx="17" ry="17" transform="rotate(-12 3 25.2)" fill="#f9f3d6" stroke="#dcdcdc" stroke-width="2.4"/><path d="M-12.5,19 Q3,26 18.5,17 M-12.5,30 Q4,37 19.5,27.5" fill="none" stroke="#dddddd" stroke-width="2.6"/><path d="M-2,42 L2.5,46.5 L7,41.5 Z" fill="#dcdcdc"/><circle cx="0" cy="0" r="9.8" fill="#ffffff" stroke="#d8d8d8" stroke-width="3"/><circle cx="0" cy="-0.6" r="7.0" fill="#d4d4d4"/><text x="0" y="0" transform="translate(22.5,-4) rotate(-45)" font-size="20.5" font-weight="500" letter-spacing="1.2" fill="#d4d4d4" font-family="'Noto Sans CJK SC','Liberation Sans',sans-serif">农小蜂</text><text x="0" y="0" transform="translate(33,8.5) rotate(-45)" font-size="9.2" font-weight="bold" letter-spacing="4.6" fill="#d6d6d6" font-family="'Liberation Sans','Noto Sans CJK SC',sans-serif">BEEDATA</text></g>
</g>
<text x="117" y="63.2" class="p" textLength="589.2" lengthAdjust="spacing"><tspan font-weight="bold" font-family="'DejaVu Sans','Liberation Sans',sans-serif" font-size="14.5">2025</tspan><tspan font-weight="bold">年第</tspan><tspan font-weight="bold" font-family="'DejaVu Sans','Liberation Sans',sans-serif" font-size="14.5">42</tspan><tspan font-weight="bold">周, </tspan><tspan>全国农产品批发市场富士苹果平均价格为9.26元/公斤，与上周相比,</tspan></text>
<text x="85" y="81.8" class="p" textLength="618.4" lengthAdjust="spacing"><tspan>下降了1.3%；与去年同期相比，上涨了9.2%；从每日监测数据来看，</tspan><tspan font-weight="bold" font-family="'DejaVu Sans','Liberation Sans',sans-serif" font-size="14.5">2025</tspan><tspan font-weight="bold">年</tspan><tspan font-weight="bold" font-family="'DejaVu Sans','Liberation Sans',sans-serif" font-size="14.5">10</tspan><tspan font-weight="bold">月</tspan><tspan font-weight="bold" font-family="'DejaVu Sans','Liberation Sans',sans-serif" font-size="14.5">17</tspan><tspan font-weight="bold">日</tspan></text>
<text x="85" y="100.2" class="p" textLength="615.0" lengthAdjust="spacing"><tspan font-weight="bold">~</tspan><tspan font-weight="bold" font-family="'DejaVu Sans','Liberation Sans',sans-serif" font-size="14.5">10</tspan><tspan font-weight="bold">月</tspan><tspan font-weight="bold" font-family="'DejaVu Sans','Liberation Sans',sans-serif" font-size="14.5">23</tspan><tspan font-weight="bold">日</tspan><tspan>，富士苹果平均价格从9.43元/公斤波动至9.27元/公斤，峰值为10月17日的</tspan></text>
<text x="85" y="118.9" class="p" textLength="338.8" lengthAdjust="spacing"><tspan>9.43元/公斤，谷值为10月19日的9.07元/公斤。</tspan></text>
<text x="117" y="488.5" class="p" textLength="588.3" lengthAdjust="spacing"><tspan font-weight="bold" font-family="'DejaVu Sans','Liberation Sans',sans-serif" font-size="14.5">2025</tspan><tspan font-weight="bold">年第</tspan><tspan font-weight="bold" font-family="'DejaVu Sans','Liberation Sans',sans-serif" font-size="14.5">42</tspan><tspan font-weight="bold">周，</tspan><tspan>全国农产品批发市场巨峰葡萄平均价格为10.12元/公斤，与上周相</tspan></text>
<text x="85" y="507.6" class="p" textLength="614.3" lengthAdjust="spacing"><tspan>比，上涨了1.5%；与去年同期相比，下降了3.6%；从每日监测数据来看，</tspan><tspan font-weight="bold" font-family="'DejaVu Sans','Liberation Sans',sans-serif" font-size="14.5">2025</tspan><tspan font-weight="bold">年</tspan><tspan font-weight="bold" font-family="'DejaVu Sans','Liberation Sans',sans-serif" font-size="14.5">10</tspan><tspan font-weight="bold">月</tspan></text>
<text x="85" y="526.7" class="p" textLength="619.0" lengthAdjust="spacing"><tspan font-weight="bold" font-family="'DejaVu Sans','Liberation Sans',sans-serif" font-size="14.5">17</tspan><tspan font-weight="bold">日~</tspan><tspan font-weight="bold" font-family="'DejaVu Sans','Liberation Sans',sans-serif" font-size="14.5">10</tspan><tspan font-weight="bold">月</tspan><tspan font-weight="bold" font-family="'DejaVu Sans','Liberation Sans',sans-serif" font-size="14.5">23</tspan><tspan font-weight="bold">日</tspan><tspan>，巨峰葡萄平均价格从10.48元/公斤波动至10.15元/公斤，峰值为10月</tspan></text>
<text x="85" y="546.2" class="p" textLength="398.6" lengthAdjust="spacing"><tspan>17日的10.48元/公斤，谷值为10月22日的9.88元/公斤。</tspan></text>
<text x="117" y="892.5" class="p" textLength="590.6" lengthAdjust="spacing"><tspan font-weight="bold" font-family="'DejaVu Sans','Liberation Sans',sans-serif" font-size="14.5">2025</tspan><tspan font-weight="bold">年第</tspan><tspan font-weight="bold" font-family="'DejaVu Sans','Liberation Sans',sans-serif" font-size="14.5">42</tspan><tspan font-weight="bold">周，</tspan><tspan>全国农产品批发市场香蕉平均价格为4.93元/公斤，与上周相比，下</tspan></text>
<text x="85" y="910.6" class="p" textLength="622.4" lengthAdjust="spacing"><tspan>降了0.4%; 与去年同期相比, 下降了25.6%; 从每日监测数据来看, </tspan><tspan font-weight="bold" font-family="'DejaVu Sans','Liberation Sans',sans-serif" font-size="14.5">2025</tspan><tspan font-weight="bold">年</tspan><tspan font-weight="bold" font-family="'DejaVu Sans','Liberation Sans',sans-serif" font-size="14.5">10</tspan><tspan font-weight="bold">月</tspan><tspan font-weight="bold" font-family="'DejaVu Sans','Liberation Sans',sans-serif" font-size="14.5">17</tspan><tspan font-weight="bold">日~</tspan><tspan font-weight="bold" font-family="'DejaVu Sans','Liberation Sans',sans-serif" font-size="14.5">10</tspan></text>
<text x="85" y="928.7" class="p" textLength="622.2" lengthAdjust="spacing"><tspan font-weight="bold">月</tspan><tspan font-weight="bold" font-family="'DejaVu Sans','Liberation Sans',sans-serif" font-size="14.5">23</tspan><tspan font-weight="bold">日</tspan><tspan>，香蕉平均价格从4.92元/公斤波动至4.98元/公斤，峰值为10月23日的4.98元/公</tspan></text>
<text x="85" y="947.0" class="p" textLength="267.9" lengthAdjust="spacing"><tspan>斤，谷值为10月22日的4.89元/公斤。</tspan></text>
<text x="88.50" y="198.20" font-size="16" fill="#000" font-family="'Noto Sans CJK SC','Liberation Sans',sans-serif" font-weight="bold">（二）、巨峰葡萄</text>
<text x="88.50" y="625.20" font-size="16" fill="#000" font-family="'Noto Sans CJK SC','Liberation Sans',sans-serif" font-weight="bold">（三）、香蕉</text>
<text x="175.50" y="228.10" font-size="14.67" fill="#595959" font-family="'Liberation Sans','Noto Sans CJK SC',sans-serif" font-weight="500" textLength="444.5" lengthAdjust="spacingAndGlyphs">图表29：全国农产品批发市场巨峰葡萄平均价格本周变化及每日走势</text>
<text x="190.00" y="653.90" font-size="14.67" fill="#595959" font-family="'Liberation Sans','Noto Sans CJK SC',sans-serif" font-weight="500" textLength="411.5" lengthAdjust="spacingAndGlyphs">图表30：全国农产品批发市场香蕉平均价格本周变化及每日走势</text>
<text x="265.50" y="437.20" font-size="14" fill="#595959" font-family="'Liberation Sans','Noto Sans CJK SC',sans-serif" font-weight="500" textLength="263.3" lengthAdjust="spacingAndGlyphs">(数据来源：农业农村部　制图：农小蜂)</text>
<text x="325.50" y="864.00" font-size="14" fill="#595959" font-family="'Liberation Sans','Noto Sans CJK SC',sans-serif" font-weight="500" textLength="173.0" lengthAdjust="spacingAndGlyphs">(信息整理及制图：农小蜂)</text>
<text x="119.60" y="387.90" font-size="10.5" fill="#707070" font-family="'Liberation Sans','Noto Sans CJK SC',sans-serif" text-anchor="end" font-weight="bold">8</text>
<text x="119.60" y="366.26" font-size="10.5" fill="#707070" font-family="'Liberation Sans','Noto Sans CJK SC',sans-serif" text-anchor="end" font-weight="bold">8.5</text>
<text x="119.60" y="344.62" font-size="10.5" fill="#707070" font-family="'Liberation Sans','Noto Sans CJK SC',sans-serif" text-anchor="end" font-weight="bold">9</text>
<text x="119.60" y="322.98" font-size="10.5" fill="#707070" font-family="'Liberation Sans','Noto Sans CJK SC',sans-serif" text-anchor="end" font-weight="bold">9.5</text>
<text x="119.60" y="301.34" font-size="10.5" fill="#707070" font-family="'Liberation Sans','Noto Sans CJK SC',sans-serif" text-anchor="end" font-weight="bold">10</text>
<text x="119.60" y="279.70" font-size="10.5" fill="#707070" font-family="'Liberation Sans','Noto Sans CJK SC',sans-serif" text-anchor="end" font-weight="bold">10.5</text>
<text x="116.00" y="262.30" font-size="13" fill="#595959" font-family="'Liberation Sans','Noto Sans CJK SC',sans-serif" font-weight="500" textLength="171.5" lengthAdjust="spacingAndGlyphs">本周平均价格：10.12元/公斤</text>
<text x="154.60" y="286.60" font-size="10" fill="#141414" font-family="'Liberation Sans','Noto Sans CJK SC',sans-serif" text-anchor="middle" font-weight="bold" textLength="21.0" lengthAdjust="spacingAndGlyphs">10.50</text>
<text x="216.60" y="309.54" font-size="10" fill="#141414" font-family="'Liberation Sans','Noto Sans CJK SC',sans-serif" text-anchor="middle" font-weight="bold" textLength="17.5" lengthAdjust="spacingAndGlyphs">9.97</text>
<text x="278.50" y="303.05" font-size="10" fill="#141414" font-family="'Liberation Sans','Noto Sans CJK SC',sans-serif" text-anchor="middle" font-weight="bold" textLength="21.0" lengthAdjust="spacingAndGlyphs">10.12</text>
<text x="154.60" y="403.20" font-size="11.5" fill="#595959" font-family="'Noto Sans CJK SC','Liberation Sans',sans-serif" text-anchor="middle" font-weight="500">去年同期</text>
<text x="216.60" y="403.20" font-size="11.5" fill="#595959" font-family="'Noto Sans CJK SC','Liberation Sans',sans-serif" text-anchor="middle" font-weight="500">上周</text>
<text x="278.50" y="403.20" font-size="11.5" fill="#595959" font-family="'Noto Sans CJK SC','Liberation Sans',sans-serif" text-anchor="middle" font-weight="500">本周</text>
<text x="319.60" y="316.60" font-size="11" fill="#000" font-family="'Noto Sans CJK SC','Liberation Sans',sans-serif" textLength="58.3" lengthAdjust="spacingAndGlyphs">环比：1.5%</text>
<text x="320.30" y="385.00" font-size="11" fill="#000" font-family="'Noto Sans CJK SC','Liberation Sans',sans-serif" textLength="62.6" lengthAdjust="spacingAndGlyphs">同比：-3.6%</text>
<text x="425.20" y="381.00" font-size="10.5" fill="#707070" font-family="'Liberation Sans','Noto Sans CJK SC',sans-serif" text-anchor="end" font-weight="bold">9</text>
<text x="425.20" y="348.15" font-size="10.5" fill="#707070" font-family="'Liberation Sans','Noto Sans CJK SC',sans-serif" text-anchor="end" font-weight="bold">9.5</text>
<text x="425.20" y="315.30" font-size="10.5" fill="#707070" font-family="'Liberation Sans','Noto Sans CJK SC',sans-serif" text-anchor="end" font-weight="bold">10</text>
<text x="425.20" y="282.45" font-size="10.5" fill="#707070" font-family="'Liberation Sans','Noto Sans CJK SC',sans-serif" text-anchor="end" font-weight="bold">10.5</text>
<text x="425.20" y="249.60" font-size="10.5" fill="#707070" font-family="'Liberation Sans','Noto Sans CJK SC',sans-serif" text-anchor="end" font-weight="bold">11</text>
<text x="429.90" y="273.06" font-size="11.8" fill="#5fa831" font-family="'DejaVu Sans','Liberation Sans',sans-serif">10.48</text>
<text x="471.25" y="289.79" font-size="11.8" fill="#5fa831" font-family="'DejaVu Sans','Liberation Sans',sans-serif" text-anchor="middle">10.23</text>
<text x="513.20" y="310.00" font-size="11.8" fill="#5fa831" font-family="'DejaVu Sans','Liberation Sans',sans-serif" text-anchor="middle">9.93</text>
<text x="555.15" y="294.39" font-size="11.8" fill="#5fa831" font-family="'DejaVu Sans','Liberation Sans',sans-serif" text-anchor="middle">10.16</text>
<text x="597.10" y="304.90" font-size="11.8" fill="#5fa831" font-family="'DejaVu Sans','Liberation Sans',sans-serif" text-anchor="middle">10.00</text>
<text x="639.05" y="313.28" font-size="11.8" fill="#5fa831" font-family="'DejaVu Sans','Liberation Sans',sans-serif" text-anchor="middle">9.88</text>
<text x="682.00" y="294.75" font-size="11.8" fill="#5fa831" font-family="'DejaVu Sans','Liberation Sans',sans-serif" text-anchor="end">10.15</text>
<text x="429.30" y="401.60" font-size="11" fill="#5a5a5a" font-family="'Liberation Sans','Noto Sans CJK SC',sans-serif" text-anchor="middle" font-weight="bold">10月17日</text>
<text x="513.20" y="401.60" font-size="11" fill="#5a5a5a" font-family="'Liberation Sans','Noto Sans CJK SC',sans-serif" text-anchor="middle" font-weight="bold">10月19日</text>
<text x="597.10" y="401.60" font-size="11" fill="#5a5a5a" font-family="'Liberation Sans','Noto Sans CJK SC',sans-serif" text-anchor="middle" font-weight="bold">10月21日</text>
<text x="681.00" y="401.60" font-size="11" fill="#5a5a5a" font-family="'Liberation Sans','Noto Sans CJK SC',sans-serif" text-anchor="middle" font-weight="bold">10月23日</text>
<text x="113.00" y="812.20" font-size="10.5" fill="#707070" font-family="'Liberation Sans','Noto Sans CJK SC',sans-serif" text-anchor="end" font-weight="bold">4</text>
<text x="113.00" y="794.52" font-size="10.5" fill="#707070" font-family="'Liberation Sans','Noto Sans CJK SC',sans-serif" text-anchor="end" font-weight="bold">4.5</text>
<text x="113.00" y="776.83" font-size="10.5" fill="#707070" font-family="'Liberation Sans','Noto Sans CJK SC',sans-serif" text-anchor="end" font-weight="bold">5</text>
<text x="113.00" y="759.15" font-size="10.5" fill="#707070" font-family="'Liberation Sans','Noto Sans CJK SC',sans-serif" text-anchor="end" font-weight="bold">5.5</text>
<text x="113.00" y="741.46" font-size="10.5" fill="#707070" font-family="'Liberation Sans','Noto Sans CJK SC',sans-serif" text-anchor="end" font-weight="bold">6</text>
<text x="113.00" y="723.78" font-size="10.5" fill="#707070" font-family="'Liberation Sans','Noto Sans CJK SC',sans-serif" text-anchor="end" font-weight="bold">6.5</text>
<text x="113.00" y="706.09" font-size="10.5" fill="#707070" font-family="'Liberation Sans','Noto Sans CJK SC',sans-serif" text-anchor="end" font-weight="bold">7</text>
<text x="119.40" y="689.00" font-size="13" fill="#595959" font-family="'Liberation Sans','Noto Sans CJK SC',sans-serif" font-weight="500" textLength="164.0" lengthAdjust="spacingAndGlyphs">本周平均价格：4.93元/公斤</text>
<text x="150.10" y="726.28" font-size="10.5" fill="#141414" font-family="'Liberation Sans','Noto Sans CJK SC',sans-serif" text-anchor="middle" textLength="17.0" lengthAdjust="spacingAndGlyphs">6.63</text>
<text x="213.90" y="785.70" font-size="10.5" fill="#141414" font-family="'Liberation Sans','Noto Sans CJK SC',sans-serif" text-anchor="middle" textLength="17.0" lengthAdjust="spacingAndGlyphs">4.95</text>
<text x="278.20" y="786.41" font-size="10.5" fill="#141414" font-family="'Liberation Sans','Noto Sans CJK SC',sans-serif" text-anchor="middle" textLength="17.0" lengthAdjust="spacingAndGlyphs">4.93</text>
<text x="149.60" y="829.00" font-size="11.5" fill="#595959" font-family="'Noto Sans CJK SC','Liberation Sans',sans-serif" text-anchor="middle" font-weight="500">去年同期</text>
<text x="213.90" y="829.00" font-size="11.5" fill="#595959" font-family="'Noto Sans CJK SC','Liberation Sans',sans-serif" text-anchor="middle" font-weight="500">上周</text>
<text x="278.20" y="829.00" font-size="11.5" fill="#595959" font-family="'Noto Sans CJK SC','Liberation Sans',sans-serif" text-anchor="middle" font-weight="500">本周</text>
<text x="320.00" y="743.40" font-size="11" fill="#000" font-family="'Noto Sans CJK SC','Liberation Sans',sans-serif" textLength="62.8" lengthAdjust="spacingAndGlyphs">环比：-0.4%</text>
<text x="320.40" y="811.50" font-size="11" fill="#000" font-family="'Noto Sans CJK SC','Liberation Sans',sans-serif" textLength="68.8" lengthAdjust="spacingAndGlyphs">同比：-25.6%</text>
<text x="420.00" y="803.10" font-size="10.5" fill="#707070" font-family="'Liberation Sans','Noto Sans CJK SC',sans-serif" text-anchor="end" font-weight="bold">4</text>
<text x="420.00" y="781.96" font-size="10.5" fill="#707070" font-family="'Liberation Sans','Noto Sans CJK SC',sans-serif" text-anchor="end" font-weight="bold">4.2</text>
<text x="420.00" y="760.82" font-size="10.5" fill="#707070" font-family="'Liberation Sans','Noto Sans CJK SC',sans-serif" text-anchor="end" font-weight="bold">4.4</text>
<text x="420.00" y="739.68" font-size="10.5" fill="#707070" font-family="'Liberation Sans','Noto Sans CJK SC',sans-serif" text-anchor="end" font-weight="bold">4.6</text>
<text x="420.00" y="718.54" font-size="10.5" fill="#707070" font-family="'Liberation Sans','Noto Sans CJK SC',sans-serif" text-anchor="end" font-weight="bold">4.8</text>
<text x="420.00" y="697.40" font-size="10.5" fill="#707070" font-family="'Liberation Sans','Noto Sans CJK SC',sans-serif" text-anchor="end" font-weight="bold">5</text>
<text x="420.00" y="676.26" font-size="10.5" fill="#707070" font-family="'Liberation Sans','Noto Sans CJK SC',sans-serif" text-anchor="end" font-weight="bold">5.2</text>
<text x="424.20" y="695.76" font-size="11.8" fill="#5fa831" font-family="'DejaVu Sans','Liberation Sans',sans-serif">4.92</text>
<text x="475.08" y="696.21" font-size="11.8" fill="#5fa831" font-family="'DejaVu Sans','Liberation Sans',sans-serif" text-anchor="middle">4.91</text>
<text x="526.56" y="689.01" font-size="11.8" fill="#5fa831" font-family="'DejaVu Sans','Liberation Sans',sans-serif" text-anchor="middle">4.98</text>
<text x="578.04" y="697.67" font-size="11.8" fill="#5fa831" font-family="'DejaVu Sans','Liberation Sans',sans-serif" text-anchor="middle">4.90</text>
<text x="629.52" y="698.73" font-size="11.8" fill="#5fa831" font-family="'DejaVu Sans','Liberation Sans',sans-serif" text-anchor="middle">4.89</text>
<text x="682.00" y="689.21" font-size="11.8" fill="#5fa831" font-family="'DejaVu Sans','Liberation Sans',sans-serif" text-anchor="end">4.98</text>
<text x="423.60" y="828.30" font-size="11" fill="#5a5a5a" font-family="'Liberation Sans','Noto Sans CJK SC',sans-serif" text-anchor="middle" font-weight="bold">10月18日</text>
<text x="475.08" y="828.30" font-size="11" fill="#5a5a5a" font-family="'Liberation Sans','Noto Sans CJK SC',sans-serif" text-anchor="middle" font-weight="bold">10月19日</text>
<text x="526.56" y="828.30" font-size="11" fill="#5a5a5a" font-family="'Liberation Sans','Noto Sans CJK SC',sans-serif" text-anchor="middle" font-weight="bold">10月20日</text>
<text x="578.04" y="828.30" font-size="11" fill="#5a5a5a" font-family="'Liberation Sans','Noto Sans CJK SC',sans-serif" text-anchor="middle" font-weight="bold">10月21日</text>
<text x="629.52" y="828.30" font-size="11" fill="#5a5a5a" font-family="'Liberation Sans','Noto Sans CJK SC',sans-serif" text-anchor="middle" font-weight="bold">10月22日</text>
<text x="681.00" y="828.30" font-size="11" fill="#5a5a5a" font-family="'Liberation Sans','Noto Sans CJK SC',sans-serif" text-anchor="middle" font-weight="bold">10月23日</text>
<line x1="0.00" y1="0.50" x2="794.00" y2="0.50" stroke="#4d4d4d" stroke-width="1"/>
<line x1="793.50" y1="0.00" x2="793.50" y2="1123.00" stroke="#8c8c8c" stroke-width="1"/>
</svg></body></html>
